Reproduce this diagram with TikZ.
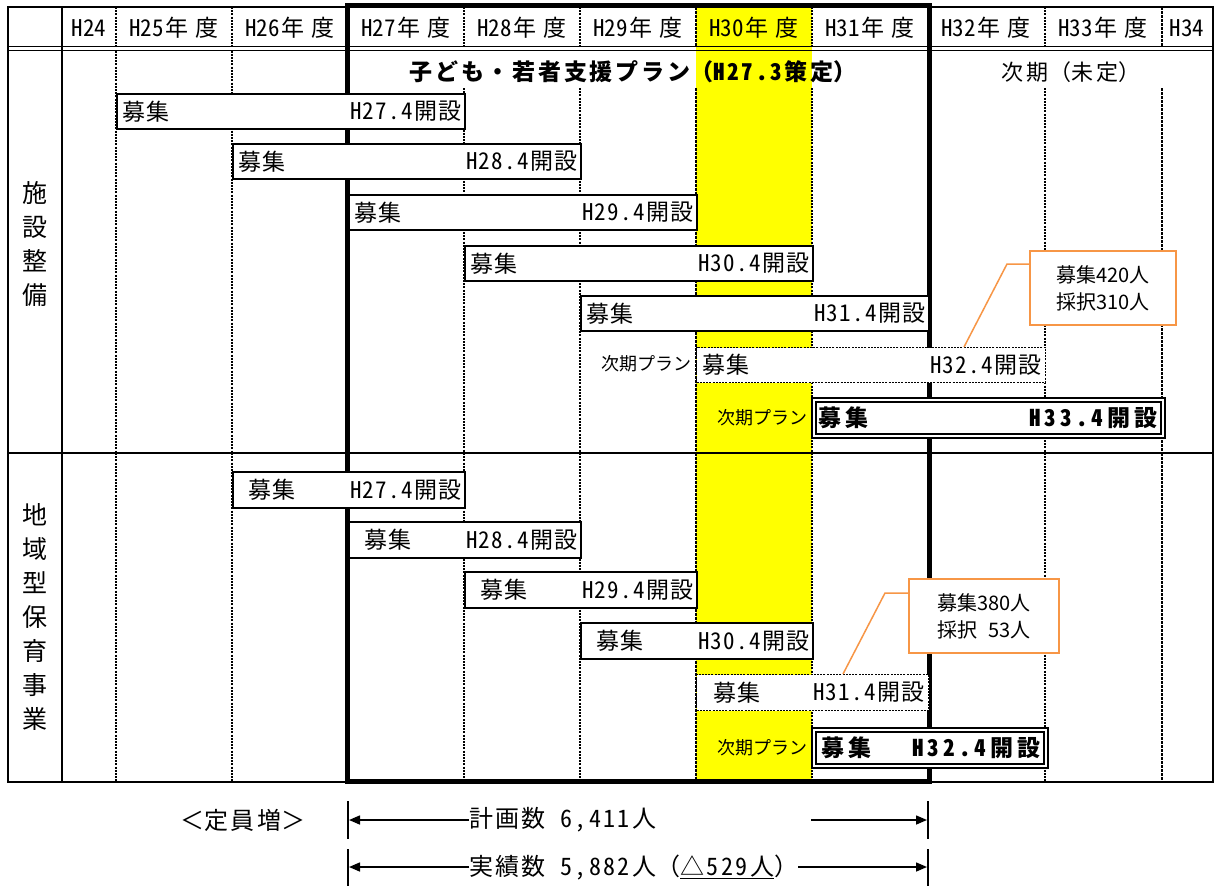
\documentclass[tikz,border=0pt]{standalone}
\usepackage{fontspec}
\setmainfont{Noto Sans CJK JP}[RawFeature=+hwid]
\newfontfamily\pfont{Noto Sans CJK JP}
\usetikzlibrary{arrows.meta,calc}
\definecolor{callorange}{HTML}{F79646}
\definecolor{hlyellow}{RGB}{255,255,0}
\newcommand\nendo{\kern2pt 年\kern7pt 度}
\newcommand\fwl{{\pfont （}}
\newcommand\fwr{{\pfont ）}}
\tikzset{
  gridline/.style={line width=1.4pt},
  dgrid/.style={line width=1.1pt, dash pattern=on 2pt off 1.2pt},
  dgridb/.style={line width=2.2pt, dash pattern=on 2.5pt off 1.5pt},
  hd/.style={font=\fontsize{23}{27}\selectfont, inner sep=0pt},
  bar/.style={draw, line width=2pt, fill=white, anchor=north west, inner sep=0pt},
  dbar/.style={draw, line width=1.1pt, dash pattern=on 2pt off 1.2pt, fill=white, anchor=north west, inner sep=0pt},
  dblbar/.style={draw, line width=1.8pt, double, double distance=2.2pt, fill=white, anchor=north west, inner sep=0pt},
  bartext/.style={font=\fontsize{23}{27}\selectfont\addfontfeature{LetterSpace=6}, inner sep=0pt},
  bartextb/.style={font=\fontsize{23}{27}\selectfont\bfseries\addfontfeature{LetterSpace=18}, inner sep=0pt},
  small/.style={font=\fontsize{18}{22}\selectfont, inner sep=0pt, anchor=east},
  call/.style={draw=callorange, line width=1.5pt, fill=white, align=left, inner sep=0pt,
    font=\pfont\fontsize{20}{27}\selectfont},
  callline/.style={draw=callorange, line width=1.5pt},
  arr/.style={line width=1.5pt, -{Triangle[length=11pt,width=9pt]}},
  tick/.style={line width=1.5pt},
  btext/.style={font=\fontsize{24}{28}\selectfont\addfontfeature{LetterSpace=10}, inner sep=0pt},
}
\newcommand\mkbar[8]{%
  \node[#2, minimum width=#5pt, minimum height=#6pt] (#1) at (#3,#4) {};
  \node[bartext, anchor=west] (#1-l) at ($(#1.west)+(#7,0)$) {募集};
  \node[bartext, anchor=east] (#1-r) at ($(#1.east)+(-4,0)$) {#8};
}
\newcommand\mkbarb[8]{%
  \node[#2, minimum width=#5pt, minimum height=#6pt] (#1) at (#3,#4) {};
  \node[bartextb, anchor=west] (#1-l) at ($(#1.west)+(#7,0)$) {募集};
  \node[bartextb, anchor=east] (#1-r) at ($(#1.east)+(-6,0)$) {#8};
}
\begin{document}
\begin{tikzpicture}[x=1pt,y=-1pt]
\useasboundingbox[fill=white] (0,0) rectangle (1215,886);
% yellow column
\fill[hlyellow] (696,7) rectangle (812,782);
% dashed verticals: header
\foreach \x in {116,232,464,580,812,1045} \draw[dgrid] (\x,7) -- (\x,46.5);
\foreach \x in {696,1162} \draw[dgridb] (\x,7) -- (\x,46.5);
% dashed verticals: section 1
\foreach \x in {116,232} \draw[dgrid] (\x,50.5) -- (\x,453);
\foreach \x in {464,580,812,1045} \draw[dgrid] (\x,88) -- (\x,453);
\foreach \x in {696,1162} \draw[dgridb] (\x,88) -- (\x,453);
% dashed verticals: section 2
\foreach \x in {116,232,464,580,812,1045} \draw[dgrid] (\x,453) -- (\x,782);
\foreach \x in {696,1162} \draw[dgridb] (\x,453) -- (\x,782);
% frame and grid
\draw[gridline] (8,7) rectangle (1213,782);
\draw[gridline] (62,7) -- (62,782);
\draw[line width=1.3pt] (8,46.5) -- (1213,46.5);
\draw[line width=1.3pt] (8,50.5) -- (1213,50.5);
\draw[gridline] (8,453) -- (1213,453);
% thick plan frame
\draw[line width=5pt] (347.5,5) rectangle (929.5,781);
% header texts
\foreach \x/\t/\n in {89/H24/h24,174/H25\nendo/h25,290/H26\nendo/h26,406/H27\nendo/h27,
  522/H28\nendo/h28,638/H29\nendo/h29,754/H30\nendo/h30,870/H31\nendo/h31,
  986/H32\nendo/h32,1103/H33\nendo/h33,1187/H34/h34}
  \node[hd] (\n) at (\x,28) {\t};
% row titles
\node[font=\fontsize{23}{27}\selectfont\bfseries, inner sep=0pt] (plan) at (633,72)
  {\addfontfeature{LetterSpace=12}子ども・若者支援プラン\fwl H27.3策定\fwr};
\node[font=\fontsize{22}{26}\selectfont, inner sep=0pt] (next) at (1071,72)
  {\addfontfeature{LetterSpace=16}次期\fwl 未定\fwr};
% side labels
\node[font=\fontsize{25}{34}\selectfont, align=center, inner sep=0pt] (sec1) at (35,244)
  {施\\設\\整\\備};
\node[font=\fontsize{25}{34}\selectfont, align=center, inner sep=0pt] (sec2) at (35,617)
  {地\\域\\型\\保\\育\\事\\業};
% section 1 bars
\mkbar{a1}{bar}{116}{93}{348}{35}{6}{H27.4開設}
\mkbar{a2}{bar}{232}{143}{348}{35}{6}{H28.4開設}
\mkbar{a3}{bar}{348}{194}{348}{35}{6}{H29.4開設}
\mkbar{a4}{bar}{464}{245}{348}{35}{6}{H30.4開設}
\mkbar{a5}{bar}{580}{295}{348}{35}{6}{H31.4開設}
\mkbar{a6}{dbar}{696}{347}{349}{35}{6}{H32.4開設}
\mkbarb{a7}{dblbar}{813}{399}{349}{36}{5}{H33.4開設}
\node[small] (n1) at (692,364) {次期プラン};
\node[small] (n2) at (808,418) {次期プラン};
% section 2 bars
\mkbar{b1}{bar}{232}{471}{232}{36}{16}{H27.4開設}
\mkbar{b2}{bar}{348}{521}{232}{36}{16}{H28.4開設}
\mkbar{b3}{bar}{464}{571}{232}{36}{16}{H29.4開設}
\mkbar{b4}{bar}{580}{622}{232}{36}{16}{H30.4開設}
\mkbar{b5}{dbar}{696}{674}{232}{36}{17}{H31.4開設}
\mkbarb{b6}{dblbar}{813}{729}{232}{36}{8}{H32.4開設}
\node[small] (n3) at (808,748) {次期プラン};
% callouts
\node[call, minimum width=146pt, minimum height=74pt] (k1) at (1103,288) {募集420人\\採択310人};
\coordinate (k1a) at (1030,264);
\coordinate (k1b) at (1007,264);
\coordinate (k1c) at (964,347);
\draw[callline] (k1a) -- (k1b) -- (k1c);
\node[call, minimum width=150pt, minimum height=74pt] (k2) at (984,616) {募集380人\\採択\hphantom{3}53人};
\coordinate (k2a) at (909,593);
\coordinate (k2b) at (885,593);
\coordinate (k2c) at (843,674);
\draw[callline] (k2a) -- (k2b) -- (k2c);
% bottom
\node[btext] (teiin) at (243,820) {{\pfont ＜}定員増{\pfont ＞}};
\draw[tick] (348,801) -- (348,839);
\draw[tick] (928,801) -- (928,839);
\draw[tick] (348,849) -- (348,886);
\draw[tick] (928,849) -- (928,886);
\coordinate (L1) at (349,820);
\coordinate (R1) at (927,820);
\coordinate (L2) at (349,867);
\coordinate (R2) at (927,867);
\node[btext, anchor=west] (p1) at (469,820) {計画数 6,411人};
\coordinate (p1r) at (811,820);
\draw[arr] (p1.west) -- (L1);
\draw[arr] (p1r) -- (R1);
\node[btext, anchor=west] (p2) at (469,867) {実績数 5,882人\fwl\underline{△529人}\fwr};
\draw[arr] (p2.west) -- (L2);
\draw[arr] (p2.east) -- (R2);
\end{tikzpicture}
\end{document}
